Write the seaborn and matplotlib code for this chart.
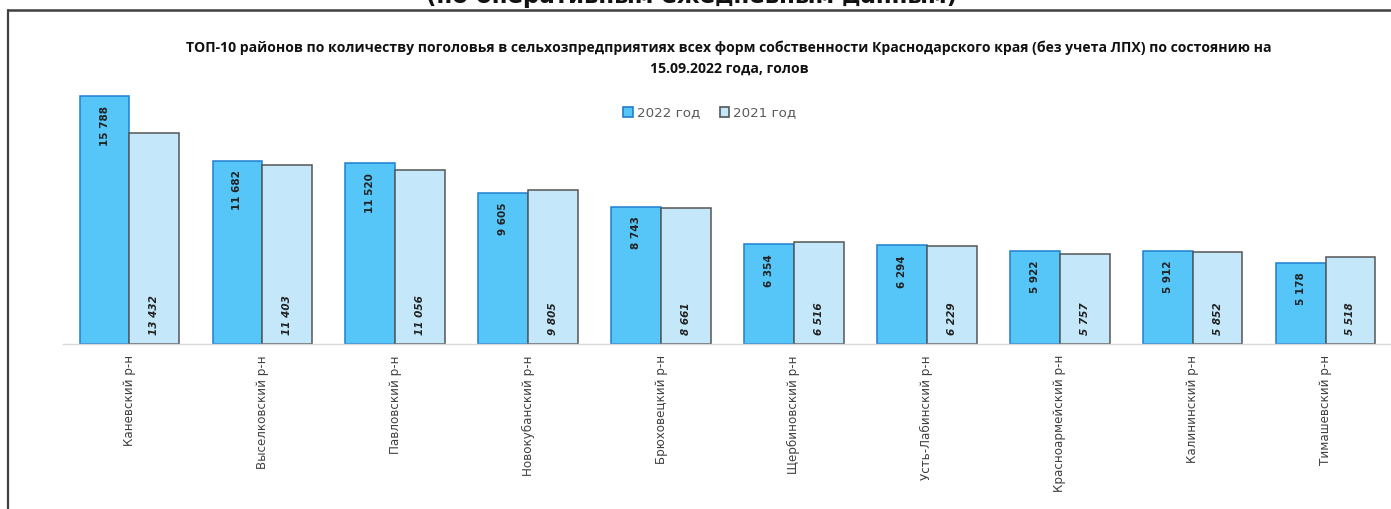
import matplotlib
matplotlib.use('Agg')
import matplotlib.pyplot as plt
import pandas as pd
import seaborn as sns
from matplotlib.lines import Line2D

districts = ['Каневский р-н', 'Выселковский р-н', 'Павловский р-н', 'Новокубанский р-н',
             'Брюховецкий р-н', 'Щербиновский р-н', 'Усть-Лабинский р-н',
             'Красноармейский р-н', 'Калининский р-н', 'Тимашевский р-н']
heads_2022 = [15788, 11682, 11520, 9605, 8743, 6354, 6294, 5922, 5912, 5178]
heads_2021 = [13432, 11403, 11056, 9805, 8661, 6516, 6229, 5757, 5852, 5518]
years = ['2022 год', '2021 год']

title = ('ТОП-10 районов по количеству поголовья в сельхозпредприятиях всех форм собственности '
         'Краснодарского края (без учета ЛПХ) по состоянию на\n15.09.2022 года, голов')
top_note = '(по оперативным ежедневным данным)'

fills = {'2022 год': '#56c5f7', '2021 год': '#c4e8f9'}
edges = {'2022 год': '#1f7fd1', '2021 год': '#555555'}

df = pd.DataFrame({
    'district': districts * 2,
    'value': heads_2022 + heads_2021,
    'year': [years[0]] * len(districts) + [years[1]] * len(districts),
})

sns.set_style('white')
plt.rcParams['font.family'] = ['DejaVu Sans']

W, H = 1391, 509
fig = plt.figure(figsize=(W / 100, H / 100), dpi=100)
ax = fig.add_axes([63 / W, (H - 344) / H, 1329 / W, 257.5 / H])

sns.barplot(data=df, x='district', y='value', hue='year', hue_order=years,
            palette=fills, width=0.75, saturation=1, ax=ax, legend=False)

for cont, yr in zip(ax.containers, years):
    for bar in cont:
        bar.set_edgecolor(edges[yr])
        bar.set_linewidth(1.1)

# value labels: 2022 near bar top, 2021 near base (italic)
for bar, v in zip(ax.containers[0], heads_2022):
    xc = bar.get_x() + bar.get_width() / 2
    ax.annotate(f'{v:,}'.replace(',', ' '), (xc, v), xytext=(0, -7), textcoords='offset points',
                rotation=90, ha='center', va='top', fontsize=7.5, fontweight='bold', color='#222222')
for bar, v in zip(ax.containers[1], heads_2021):
    xc = bar.get_x() + bar.get_width() / 2
    ax.annotate(f'{v:,}'.replace(',', ' '), (xc, 0), xytext=(0, 6.5), textcoords='offset points',
                rotation=90, ha='center', va='bottom', fontsize=7.5, fontweight='bold',
                fontstyle='italic', color='#222222')

ax.set_xlim(-0.5, 9.5)
ax.set_ylim(0, 16400)
ax.set_xlabel('')
ax.set_ylabel('')
ax.set_yticks([])
ax.tick_params(axis='x', length=0, pad=8, labelsize=8.6, labelcolor='#404040')
plt.setp(ax.get_xticklabels(), rotation=90, ha='center', va='top')
for s in ['top', 'right', 'left']:
    ax.spines[s].set_visible(False)
ax.spines['bottom'].set_color('#d9d9d9')
ax.spines['bottom'].set_linewidth(1)

handles = [plt.Rectangle((0, 0), 1, 1, facecolor=fills[y], edgecolor=edges[y], linewidth=1.2) for y in years]
fig.legend(handles, years, loc='center', bbox_to_anchor=(710 / W, 1 - 113 / H), ncol=2,
           frameon=False, fontsize=9.6, labelcolor='#595959', handlelength=0.7, handleheight=0.7,
           handletextpad=0.3, columnspacing=1.5)

fig.text(729 / W, 1 - 58 / H, title, ha='center', va='center', fontsize=10.1,
         fontweight='bold', family=['Open Sans', 'DejaVu Sans'], linespacing=1.6, color='#111111')
# heading of the page above, only its lower edge is in view
fig.text(692 / W, 1 - 2.5 / H, top_note, ha='center', va='baseline', fontsize=16.5,
         fontweight='bold', color='#111111')

# frame of the embedded picture
fig.add_artist(Line2D([7.5 / W, 1.01], [1 - 10 / H] * 2, lw=1.8, color='#404040'))
fig.add_artist(Line2D([7.5 / W] * 2, [1 - 10 / H, -0.01], lw=1.6, color='#404040'))

fig.savefig('out.png', dpi=100)
